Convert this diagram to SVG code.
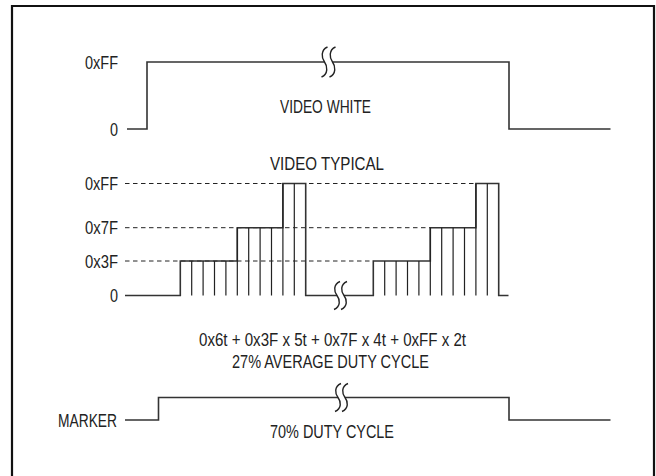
<svg xmlns="http://www.w3.org/2000/svg" width="656" height="476" viewBox="0 0 656 476">
<defs>
<style>
.t{font-family:"Liberation Sans Narrow","Liberation Sans",Arial,sans-serif;font-size:18px;fill:#222}
.w{fill:none;stroke:#333;stroke-width:1.6;stroke-linejoin:miter}
.tk{fill:none;stroke:#222;stroke-width:1.2}
.d{fill:none;stroke:#222;stroke-width:1;stroke-dasharray:4.5 3.5}
.br{fill:none;stroke:#222;stroke-width:1.4}
</style>
</defs>
<rect width="656" height="476" fill="#fff"/>
<path id="border" d="M12,476 V6 H654 V476" fill="none" stroke="#111" stroke-width="2.2"/>

<g id="video-white">
<path class="w" d="M127,129 H147 V62 H324.5 M332.5,62 H509 V129 H610.5"/>
<path class="br" d="M327.5,47 C320.5,50 321.5,58 324.5,62 C327.5,66 328.5,74 321.5,77"/>
<path class="br" d="M335.5,47 C328.5,50 329.5,58 332.5,62 C335.5,66 336.5,74 329.5,77"/>
<text class="t" x="118" y="68.5" text-anchor="end" textLength="33" lengthAdjust="spacingAndGlyphs">0xFF</text>
<text class="t" x="118" y="135.5" text-anchor="end" textLength="8" lengthAdjust="spacingAndGlyphs">0</text>
<text class="t" x="325.5" y="113" text-anchor="middle" textLength="91" lengthAdjust="spacingAndGlyphs">VIDEO WHITE</text>
</g>

<g id="video-typical">
<text class="t" x="327" y="170" text-anchor="middle" textLength="114" lengthAdjust="spacingAndGlyphs">VIDEO TYPICAL</text>
<path class="d" d="M125,183.5 H475.9 M125,227.7 H430.3 M125,261 H373.3"/>
<path class="w" d="M125,295.5 H180.3 V261 H237.3 V227.7 H282.9 V183.5 H305.7 V295.5 H337 M344,295.5 H373.3 V261 H430.3 V227.7 H475.9 V183.5 H498.7 V295.5 H508.5"/>
<path class="tk" d="M191.7,261 V295.5 M203.1,261 V295.5 M214.5,261 V295.5 M225.9,261 V295.5 M237.3,227.7 V295.5 M248.7,227.7 V295.5 M260.1,227.7 V295.5 M271.5,227.7 V295.5 M282.9,183.5 V295.5 M294.3,183.5 V295.5
M384.7,261 V295.5 M396.1,261 V295.5 M407.5,261 V295.5 M418.9,261 V295.5 M430.3,227.7 V295.5 M441.7,227.7 V295.5 M453.1,227.7 V295.5 M464.5,227.7 V295.5 M475.9,183.5 V295.5 M487.3,183.5 V295.5"/>
<path class="br" d="M340,281.5 C333,284.5 334,291.5 337,295.5 C340,299.5 341,306.5 334,309.5"/>
<path class="br" d="M347,281.5 C340,284.5 341,291.5 344,295.5 C347,299.5 348,306.5 341,309.5"/>
<text class="t" x="118" y="190" text-anchor="end" textLength="33" lengthAdjust="spacingAndGlyphs">0xFF</text>
<text class="t" x="118" y="234" text-anchor="end" textLength="33" lengthAdjust="spacingAndGlyphs">0x7F</text>
<text class="t" x="118" y="267.5" text-anchor="end" textLength="33" lengthAdjust="spacingAndGlyphs">0x3F</text>
<text class="t" x="118" y="302" text-anchor="end" textLength="8" lengthAdjust="spacingAndGlyphs">0</text>
<text class="t" x="332.5" y="346" text-anchor="middle" textLength="267" lengthAdjust="spacingAndGlyphs">0x6t + 0x3F x 5t + 0x7F x 4t + 0xFF x 2t</text>
<text class="t" x="330.5" y="368" text-anchor="middle" textLength="197" lengthAdjust="spacingAndGlyphs">27% AVERAGE DUTY CYCLE</text>
</g>

<g id="marker">
<path class="w" d="M125,420 H158.5 V397.5 H338 M345,397.5 H509 V420 H610.5"/>
<path class="br" d="M341,383.5 C334,386.5 335,393.5 338,397.5 C341,401.5 342,408.5 335,411.5"/>
<path class="br" d="M348,383.5 C341,386.5 342,393.5 345,397.5 C348,401.5 349,408.5 342,411.5"/>
<text class="t" x="117" y="427" text-anchor="end" textLength="59" lengthAdjust="spacingAndGlyphs">MARKER</text>
<text class="t" x="332" y="437.5" text-anchor="middle" textLength="124" lengthAdjust="spacingAndGlyphs">70% DUTY CYCLE</text>
</g>
</svg>
